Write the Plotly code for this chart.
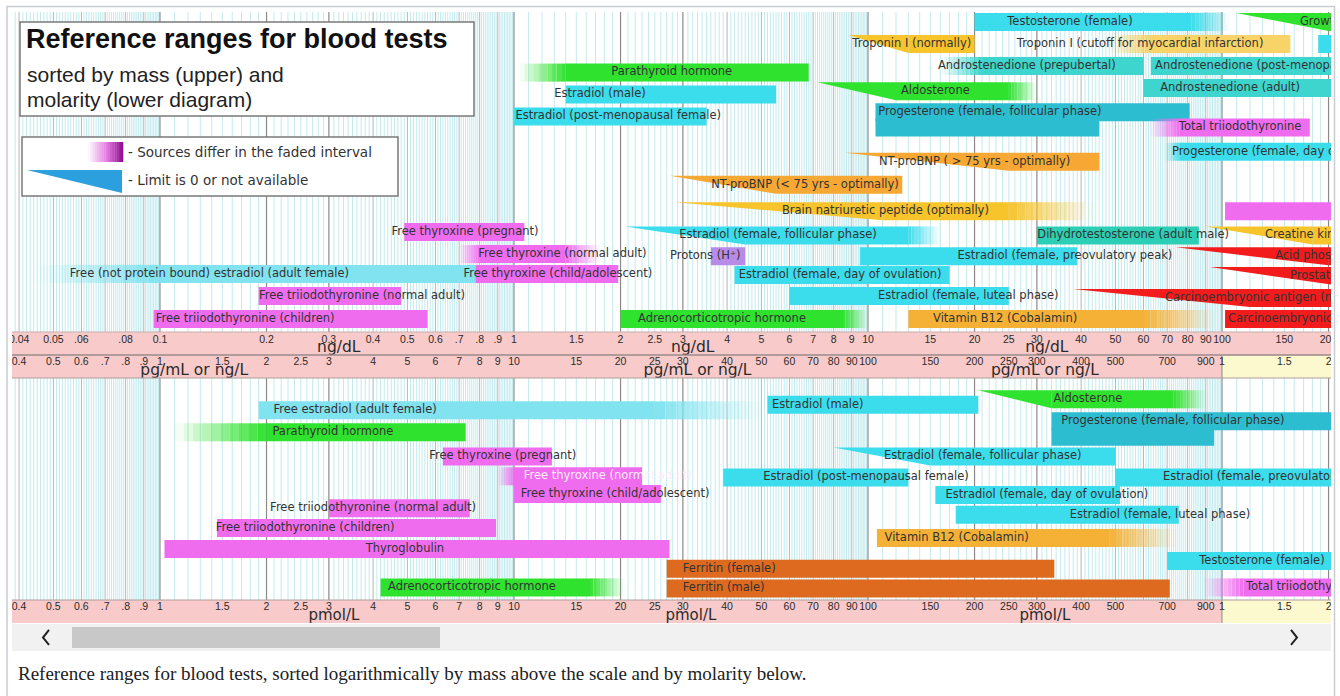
import numpy as np
import plotly.graph_objects as go

W, H = 1340, 696
ROW_PX = 22.0                 # one row unit of the y axis
PLOT_L, PLOT_R = 12, 1331     # image area (px)
X_MIN, X_MAX = 0.382, 2032.0  # visible range (pg/mL above, pmol/L below)

# ---------------- upper diagram: by mass (axis unit pg/mL = ng/L) ----------------
U_NAME = [
    "Testosterone (female)", "Growth hormone", "Troponin I (normally)",
    "Troponin I (cutoff for myocardial infarction)", "Testosterone (male)",
    "Androstenedione (prepubertal)", "Androstenedione (post-menopausal female)",
    "Parathyroid hormone", "Aldosterone", "Androstenedione (adult)",
    "Estradiol (male)", "Estradiol (post-menopausal female)",
    "Progesterone (female, follicular phase)", "",
    "Total triiodothyronine", "Progesterone (female, day of ovulation)",
    "NT-proBNP ( > 75 yrs - optimally)", "NT-proBNP (< 75 yrs - optimally)",
    "Brain natriuretic peptide (optimally)", "Total thyroxine",
    "Free thyroxine (pregnant)", "Estradiol (female, follicular phase)",
    "Dihydrotestosterone (adult male)", "Creatine kinase",
    "Free thyroxine (normal adult)", "Protons (H⁺)",
    "Estradiol (female, preovulatory peak)", "Acid phosphatase",
    "Free (not protein bound) estradiol (adult female)",
    "Free thyroxine (child/adolescent)", "Estradiol (female, day of ovulation)",
    "Prostate specific antigen", "Free triiodothyronine (normal adult)",
    "Estradiol (female, luteal phase)", "Carcinoembryonic antigen (non-smokers)",
    "Free triiodothyronine (children)", "Adrenocorticotropic hormone",
    "Vitamin B12 (Cobalamin)", "Carcinoembryonic antigen (smokers)",
]
U_LO   = [200, 1100, 88, 480, 1870, 160, 630, 10.4, 72, 600, 14, 10, 105, 105, 626, 690, 86, 27.6, 28.5, 1020,
          4.9, 20.6, 300, 900, 7.0, 36, 95, 740, 0.45, 7.8, 42, 925, 1.9, 60, 380, 0.96, 20, 130, 1020]
U_FULL = [200, 2000, 130, 620, 1870, 210, 630, 14, 120, 600, 14, 10, 105, 105, 760, 760, 250, 55, 110, 1020,
          4.9, 45, 300, 1800, 8.0, 36, 95, 2000, 1.0, 7.8, 42, 2100, 1.9, 60, 1200, 0.96, 20, 130, 1020]
U_END  = [820, 5000, 200, 1560, 5000, 600, 5000, 68, 250, 5000, 55, 35, 810, 450, 1770, 5000, 450, 125, 250, 5000,
          10.7, 130, 860, 5000, 14, 45, 390, 5000, 8.0, 19.7, 170, 5000, 4.8, 250, 2500, 5.7, 85, 600, 5000]
U_HI   = [1050, 5000, 200, 1560, 5000, 600, 5000, 68, 300, 5000, 55, 35, 810, 450, 1770, 5000, 450, 125, 430, 5000,
          10.7, 160, 860, 5000, 17.5, 45, 390, 5000, 8.0, 19.7, 170, 5000, 4.8, 250, 2500, 5.7, 100, 950, 5000]
U_KIND = ["bar", "zero", "zero", "bar", "bar", "bar", "bar", "bar", "zero", "bar", "bar", "bar", "bar", "bar",
          "bar", "bar", "zero", "zero", "zero", "bar", "bar", "zero", "bar", "zero", "bar", "bar", "bar", "zero",
          "bar", "bar", "bar", "zero", "bar", "bar", "zero", "bar", "bar", "bar", "bar"]
U_ROW  = [1.0, 1.0, 2.0, 2.0, 2.0, 3.0, 3.0, 3.3, 4.15, 4.0, 4.3, 5.3, 5.1, 5.8, 5.8, 6.9, 7.35, 8.4, 9.6, 9.6,
          10.55, 10.7, 10.7, 10.7, 11.55, 11.65, 11.65, 11.65, 12.45, 12.45, 12.5, 12.55, 13.45, 13.45, 13.55,
          14.5, 14.5, 14.5, 14.5]
U_GROUP = ["cyan", "green", "yellow", "paleyellow", "cyan", "teal", "teal", "green", "green", "teal", "cyan",
           "cyan", "prog", "prog", "thyroid", "cyan", "orange", "orange", "yellow", "thyroid", "thyroid", "cyan",
           "dht", "yellow", "thyroid", "acid", "cyan", "red", "palecyan", "thyroid", "cyan", "red", "thyroid",
           "cyan", "red", "thyroid", "green", "b12", "red"]
U_LABEL_AT = [372, 1660, 133, 587, 2100, 281, 647, 27.9, 155, 1054, 17.5, 19.7, 221, None, 1125, 722, 200, 66.4,
              112, 2100, 7.27, 55.7, 561, 1322, 13.7, 34.7, 360, 1413, 1.38, 13.3, 83.4, 1556, 3.72, 192, 690,
              1.74, 38.7, 244, 1040]
U_LABEL_SIDE = ["c", "l", "c", "c", "l", "c", "l", "c", "c", "c", "c", "c", "c", "c", "c", "l", "c", "c", "c",
                "l", "c", "c", "c", "l", "c", "c", "c", "l", "c", "c", "c", "l", "c", "c", "l", "c", "c", "c", "l"]

# ---------------- lower diagram: by molarity (axis unit pmol/L) ----------------
L_NAME = [
    "Free estradiol (adult female)", "Parathyroid hormone", "Free thyroxine (pregnant)",
    "Free thyroxine (normal adult)", "Free thyroxine (child/adolescent)",
    "Free triiodothyronine (normal adult)", "Free triiodothyronine (children)", "Thyroglobulin",
    "Adrenocorticotropic hormone", "Ferritin (female)", "Ferritin (male)", "Estradiol (male)",
    "Aldosterone", "Progesterone (female, follicular phase)", "",
    "Estradiol (female, follicular phase)", "Estradiol (female, preovulatory peak)",
    "Estradiol (post-menopausal female)", "Estradiol (female, day of ovulation)",
    "Estradiol (female, luteal phase)", "Vitamin B12 (Cobalamin)", "Testosterone (female)",
    "Total triiodothyronine",
]
L_LO   = [1.9, 1.1, 6.3, 9.0, 10, 3.0, 1.45, 1.03, 4.2, 27, 27, 52, 205, 330, 330, 80, 500, 39, 155, 177, 106, 700, 890]
L_FULL = [1.9, 2.0, 6.3, 10, 10, 3.0, 1.45, 1.03, 4.2, 27, 27, 52, 330, 330, 330, 150, 500, 39, 155, 177, 106, 700, 1150]
L_END  = [25, 7.3, 12.8, 23, 26, 7.5, 8.9, 27.5, 16.4, 336, 712, 205, 730, 5000, 950, 500, 2500, 130, 515, 755, 480, 3000, 3000]
L_HI   = [50, 7.3, 12.8, 23, 26, 7.5, 8.9, 27.5, 20.5, 336, 712, 205, 900, 5000, 950, 500, 2500, 130, 515, 755, 740, 3000, 3000]
L_KIND = ["bar"] * 12 + ["zero", "bar", "bar", "zero"] + ["bar"] * 7
L_ROW  = [18.65, 19.65, 20.75, 21.65, 22.45, 23.1, 24.0, 24.95, 26.7, 25.85, 26.75, 18.4, 18.15, 19.15, 19.85,
          20.75, 21.7, 21.7, 22.5, 23.4, 24.45, 25.5, 26.7]
L_GROUP = ["palecyan", "green", "thyroid", "thyroid", "thyroid", "thyroid", "thyroid", "thyroid", "green",
           "ferritin", "ferritin", "cyan", "green", "prog", "prog", "cyan", "cyan", "cyan", "cyan", "cyan", "b12",
           "cyan", "thyroid"]
L_LABEL_AT = [3.56, 3.08, 9.3, 18.4, 19.3, 4.0, 2.57, 4.92, 7.61, 30, 30, 53.6, 418, 727, None, 211, 681, 98.7,
              320, 668, 178, 1297, 1169]
L_LABEL_SIDE = ["c", "c", "c", "c", "c", "c", "c", "c", "c", "l", "l", "l", "c", "c", "c", "c", "l", "c", "c",
                "c", "c", "c", "l"]
L_LIGHT_LABEL = {"Free thyroxine (normal adult)"}

# ---------------- scale labels ----------------
UPPER_TICK_NGDL = [0.04, 0.05, 0.06, 0.08, 0.1, 0.2, 0.3, 0.4, 0.5, 0.6, 0.7, 0.8, 0.9, 1, 1.5, 2, 2.5, 3, 4, 5,
                   6, 7, 8, 9, 10, 15, 20, 25, 30, 40, 50, 60, 70, 80, 90, 100, 150, 200]
UPPER_TICK_TEXT = ["0.04", "0.05", ".06", ".08", "0.1", "0.2", "0.3", "0.4", "0.5", "0.6", ".7", ".8", ".9", "1",
                   "1.5", "2", "2.5", "3", "4", "5", "6", "7", "8", "9", "10", "15", "20", "25", "30", "40", "50",
                   "60", "70", "80", "90", "100", "150", "200"]
UPPER_UNIT_NGDL = [0.032, 0.32, 3.2, 32]
MID_TICK_PGML = [0.4, 0.5, 0.6, 0.7, 0.8, 0.9, 1, 1.5, 2, 2.5, 3, 4, 5, 6, 7, 8, 9, 10, 15, 20, 25, 30, 40, 50,
                 60, 70, 80, 90, 100, 150, 200, 250, 300, 400, 500, 700, 900, 1000, 1500, 2000]
MID_TICK_TEXT = ["0.4", "0.5", "0.6", ".7", ".8", ".9", "1", "1.5", "2", "2.5", "3", "4", "5", "6", "7", "8", "9",
                 "10", "15", "20", "25", "30", "40", "50", "60", "70", "80", "90", "100", "150", "200", "250",
                 "300", "400", "500", "700", "900", "1", "1.5", "2"]
MID_UNIT_PGML = [1.25, 33, 316]
LOW_TICK_PMOL = [0.4, 0.5, 0.6, 0.7, 0.8, 0.9, 1, 1.5, 2, 2.5, 3, 4, 5, 6, 7, 8, 9, 10, 15, 20, 25, 30, 40, 50,
                 60, 70, 80, 90, 100, 150, 200, 250, 300, 400, 500, 700, 900, 1000, 1500, 2000]
LOW_TICK_TEXT = ["0.4", "0.5", "0.6", ".7", ".8", ".9", "1", "1.5", "2", "2.5", "3", "4", "5", "6", "7", "8", "9",
                 "10", "15", "20", "25", "30", "40", "50", "60", "70", "80", "90", "100", "150", "200", "250",
                 "300", "400", "500", "700", "900", "1", "1.5", "2"]
LOW_UNIT_PMOL = [3.1, 31.6, 316]

GROUP_COLOR = {
    "cyan": "#3bdcec", "palecyan": "#80e3ef", "teal": "#3dd5cd", "prog": "#2dbdd0", "dht": "#2ccfb5",
    "thyroid": "#f06cef", "green": "#2ee22e", "orange": "#f7a733", "yellow": "#f7c42c",
    "paleyellow": "#f8d468", "red": "#f21c1c", "b12": "#f4b136", "ferritin": "#de6a1f", "acid": "#b98be8",
}

SANS = "Liberation Sans, Arial, sans-serif"
WIDE = "DejaVu Sans, Verdana, sans-serif"
TXT = "#333333"

fig = go.Figure()


def rgba(hexc, a):
    h = hexc.lstrip("#")
    return "rgba(%d,%d,%d,%.3f)" % (int(h[0:2], 16), int(h[2:4], 16), int(h[4:6], 16), a)


def poly(xs, ys, color, a=1.0):
    fig.add_trace(go.Scatter(x=xs, y=ys, mode="lines", fill="toself", fillcolor=rgba(color, a),
                             line=dict(width=0), hoverinfo="skip", showlegend=False))


def line_trace(xs, ys, color, width):
    fig.add_trace(go.Scatter(x=xs, y=ys, mode="lines", line=dict(color=color, width=width),
                             hoverinfo="skip", showlegend=False))


# ---------------- background vertical lines ----------------
REGIONS = [(12 / ROW_PX, 332 / ROW_PX), (378 / ROW_PX, 600 / ROW_PX)]
fine, dark, mid = [], [], []
for n in range(-1, 4):
    for i in range(10, 100):
        v = (10.0 ** n) * i / 10.0
        if not (X_MIN < v < X_MAX):
            continue
        if i % 10 == 0:
            (dark if i // 10 in (1, 2, 3) else mid).append(v)
        else:
            fine.append(v)


def vlines(vals, color, width):
    xs, ys = [], []
    for r0, r1 in REGIONS:
        for v in vals:
            xs += [v, v, None]
            ys += [r0, r1, None]
    line_trace(xs, ys, color, width)


vlines(fine, "#c3eaee", 1)
vlines(mid, "#b2b8b8", 1)
vlines(dark, "#8a8a8a", 1.2)

# yellow part of the lower scales (>= 1 ng/mL, >= 1 nmol/L)
for y0, y1 in [(355.5, 378), (600, 623)]:
    poly([1000, X_MAX * 1.2, X_MAX * 1.2, 1000], [y0 / ROW_PX] * 2 + [y1 / ROW_PX] * 2, "#fdf9cf")
    line_trace([1000, 1000], [y0 / ROW_PX, y1 / ROW_PX], "#8a8a8a", 1)

# ---------------- ranges ----------------
HALF = 0.41
NF = 10


def draw_range(lo, full, end, hi, kind, row, color):
    top, bot = row - HALF, row + HALF
    if kind == "zero":
        poly([lo, full, full, lo], [top, top, bot, top], color)
    elif full > lo:
        e = np.geomspace(lo, full, NF + 1)
        for i in range(NF):
            poly([e[i], e[i + 1], e[i + 1], e[i]], [top, top, bot, bot], color, (i + 0.5) / NF)
    if end > full:
        poly([full, end, end, full], [top, top, bot, bot], color)
    if hi > end:
        e = np.geomspace(end, hi, NF + 1)
        for i in range(NF):
            poly([e[i], e[i + 1], e[i + 1], e[i]], [top, top, bot, bot], color, 1 - (i + 0.5) / NF)


def draw_diagram(names, lo, full, end, hi, kind, rows, groups, lab_at, lab_side, light=()):
    for k in range(len(names)):
        draw_range(lo[k], full[k], end[k], hi[k], kind[k], rows[k], GROUP_COLOR[groups[k]])
    for side, pos in (("c", "middle center"), ("l", "middle right")):
        idx = [k for k in range(len(names)) if lab_side[k] == side and lab_at[k] is not None and names[k]]
        fig.add_trace(go.Scatter(
            x=[lab_at[k] for k in idx], y=[rows[k] for k in idx], text=[names[k] for k in idx],
            mode="text", textposition=pos, hoverinfo="skip", showlegend=False, cliponaxis=True,
            textfont=dict(family=WIDE, size=11.5,
                          color=["#fbeefb" if names[k] in light else TXT for k in idx])))


draw_diagram(U_NAME, U_LO, U_FULL, U_END, U_HI, U_KIND, U_ROW, U_GROUP, U_LABEL_AT, U_LABEL_SIDE)
draw_diagram(L_NAME, L_LO, L_FULL, L_END, L_HI, L_KIND, L_ROW, L_GROUP, L_LABEL_AT, L_LABEL_SIDE, L_LIGHT_LABEL)


# ---------------- scale texts ----------------
def band_text(vals, texts, ypx, size, family=SANS):
    fig.add_trace(go.Scatter(x=vals, y=[ypx / ROW_PX] * len(vals), text=texts, mode="text",
                             textposition="middle center", hoverinfo="skip", showlegend=False,
                             cliponaxis=True, textfont=dict(family=family, size=size, color="#2b2b2b")))


band_text([v * 10 for v in UPPER_TICK_NGDL], UPPER_TICK_TEXT, 340, 10.5)
band_text([v * 10 for v in UPPER_UNIT_NGDL], ["ng/dL"] * len(UPPER_UNIT_NGDL), 348.5, 15.5, WIDE)
band_text(MID_TICK_PGML, MID_TICK_TEXT, 362.5, 10.5)
band_text(MID_UNIT_PGML, ["pg/mL or ng/L"] * len(MID_UNIT_PGML), 371, 15.5, WIDE)
band_text(LOW_TICK_PMOL, LOW_TICK_TEXT, 607, 10.5)
band_text(LOW_UNIT_PMOL, ["pmol/L"] * len(LOW_UNIT_PMOL), 616, 15, WIDE)


# ---------------- decorations (paper pixels) ----------------
def rect(x0, y0, x1, y1, fill=None, line=None, lw=1, layer="above"):
    return dict(type="rect", xref="paper", yref="paper", x0=x0 / W, x1=x1 / W, y0=1 - y1 / H, y1=1 - y0 / H,
                fillcolor=fill if fill else "rgba(0,0,0,0)", line=dict(color=line if line else "rgba(0,0,0,0)",
                                                                      width=lw if line else 0), layer=layer)


def path(points, closed=True, fill=None, line=None, lw=1, layer="above"):
    d = "M " + " L ".join("%.5f,%.5f" % (x / W, 1 - y / H) for x, y in points) + (" Z" if closed else "")
    return dict(type="path", xref="paper", yref="paper", path=d,
                fillcolor=fill if fill else "rgba(0,0,0,0)",
                line=dict(color=line if line else "rgba(0,0,0,0)", width=lw if line else 0), layer=layer)


shapes = [
    rect(PLOT_L, 332, PLOT_R, 378, fill="#f8caca", layer="below"),
    rect(PLOT_L, 600, PLOT_R, 623, fill="#f8caca", layer="below"),
    path([(PLOT_L, 355), (PLOT_R, 355)], closed=False, line="#9a8a8a", lw=1.5),
    path([(PLOT_L, 378), (PLOT_R, 378)], closed=False, line="#b09c9c", lw=1),
    path([(PLOT_L, 332), (PLOT_R, 332)], closed=False, line="#c8b0b0", lw=1),
    path([(PLOT_L, 600), (PLOT_R, 600)], closed=False, line="#b09c9c", lw=1),
    # title box and legend box
    rect(20, 22, 474, 116, fill="white", line="#7a7a7a", lw=1.5),
    rect(22, 137, 398, 196, fill="white", line="#7a7a7a", lw=1.5),
    path([(27, 170), (122, 170), (122, 193)], fill="#2c9fde"),
    # scroll bar
    rect(PLOT_L, 624, PLOT_R, 651, fill="#f1f1f1"),
    rect(72, 627, 440, 648, fill="#c8c8c8"),
    path([(49, 630), (43, 637.5), (49, 645)], closed=False, line="#222222", lw=2),
    path([(1291, 630), (1297, 637.5), (1291, 645)], closed=False, line="#222222", lw=2),
    # outer frame
    path([(7, 712), (7, 6.5), (1334.5, 6.5), (1334.5, 712)], closed=False, line="#c8ccd1", lw=1.5),
]
# legend gradient swatch (sources differ)
stops = [(0.0, (255, 255, 255)), (0.55, (226, 120, 226)), (1.0, (140, 10, 140))]
NS = 16
for i in range(NS):
    t = (i + 0.5) / NS
    for (t0, c0), (t1, c1) in zip(stops[:-1], stops[1:]):
        if t0 <= t <= t1:
            f = (t - t0) / (t1 - t0)
            c = tuple(int(round(c0[j] + f * (c1[j] - c0[j]))) for j in range(3))
    x0 = 88 + (123 - 88) * i / NS
    x1 = 88 + (123 - 88) * (i + 1) / NS + 0.3
    shapes.append(rect(x0, 142, x1, 162, fill="rgb(%d,%d,%d)" % c))


def ann(text, x, y, size, family=SANS, color="#111111", xanchor="left"):
    return dict(text=text, x=x / W, y=1 - y / H, xref="paper", yref="paper", showarrow=False,
                xanchor=xanchor, yanchor="middle", font=dict(family=family, size=size, color=color))


annotations = [
    ann("<b>Reference ranges for blood tests</b>", 24, 39, 27),
    ann("sorted by mass (upper) and", 25, 74, 21, color="#222222"),
    ann("molarity (lower diagram)", 25, 99, 21, color="#222222"),
    ann("- Sources differ in the faded interval", 126, 152, 13.5, family=WIDE, color="#333333"),
    ann("- Limit is 0 or not available", 126, 180, 13.5, family=WIDE, color="#333333"),
    ann("Reference ranges for blood tests, sorted logarithmically by mass above the scale and by molarity below.",
        16, 673, 19, family="Liberation Serif, Times New Roman, serif", color="#202122"),
]

fig.update_layout(
    width=W, height=H, margin=dict(l=0, r=0, t=0, b=0),
    paper_bgcolor="white", plot_bgcolor="white", showlegend=False, hovermode=False,
    xaxis=dict(type="log", range=[np.log10(X_MIN), np.log10(X_MAX)], domain=[PLOT_L / W, PLOT_R / W],
               showgrid=False, zeroline=False, showticklabels=False, ticks="", fixedrange=True, showline=False),
    yaxis=dict(range=[H / ROW_PX, 0], domain=[0, 1], showgrid=False, zeroline=False, showticklabels=False,
               ticks="", fixedrange=True, showline=False),
    shapes=shapes, annotations=annotations,
)

fig.write_html("out.html", config={"displayModeBar": False},
               post_script="document.body.style.margin='0px';"
                           "document.documentElement.style.overflow='hidden';")
